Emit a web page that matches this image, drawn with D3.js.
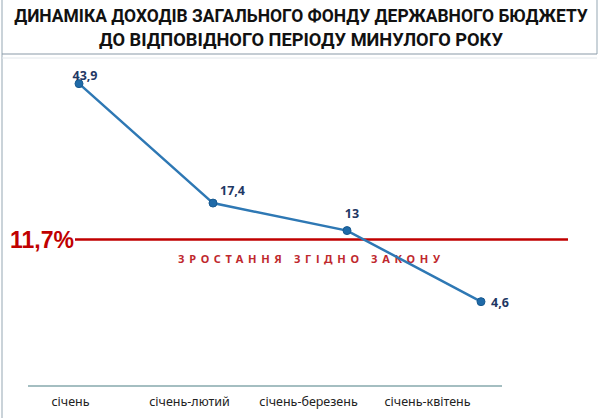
<!DOCTYPE html>
<html>
<head>
<meta charset="utf-8">
<script src="https://cdn.jsdelivr.net/npm/d3@7"></script>
<style>
  body { margin: 0; background: #fff; }
  svg { display: block; font-family: "Noto Sans", "DejaVu Sans", sans-serif; }
</style>
</head>
<body>
<div id="chart"></div>
<script>
// Chart data
const months = ["січень", "січень-лютий", "січень-березень", "січень-квітень"];
const growth = [43.9, 17.4, 13, 4.6];
const valueLabels = ["43,9", "17,4", "13", "4,6"];
const lawLevel = 11.7;
const lawLabel = "11,7%";
const lawText = "ЗРОСТАННЯ ЗГІДНО ЗАКОНУ";
const titleLines = [
    "ДИНАМІКА ДОХОДІВ ЗАГАЛЬНОГО ФОНДУ ДЕРЖАВНОГО БЮДЖЕТУ",
    "ДО ВІДПОВІДНОГО  ПЕРІОДУ МИНУЛОГО РОКУ"
];

const width = 600, height = 418;

const svg = d3.select("#chart")
    .append("svg")
    .attr("width", width)
    .attr("height", height);

// Title box borders
svg.append("line")
    .attr("x1", 2).attr("x2", 2).attr("y1", 0).attr("y2", height)
    .attr("stroke", "#b9c4cc").attr("stroke-width", 1.5);
svg.append("line")
    .attr("x1", 597).attr("x2", 597).attr("y1", 0).attr("y2", 54)
    .attr("stroke", "#b9c4cc").attr("stroke-width", 1.5);
svg.append("line")
    .attr("x1", 2).attr("x2", 597).attr("y1", 54).attr("y2", 54)
    .attr("stroke", "#8a9aa8").attr("stroke-width", 1.2);
svg.append("line")
    .attr("x1", 2).attr("x2", 597).attr("y1", 58).attr("y2", 58)
    .attr("stroke", "#e3e8ec").attr("stroke-width", 1);

// Title: squeeze horizontally to the width of the condensed original font
const titleWidths = [574, 404];
const titleY = [22, 46];
titleLines.forEach((t, i) => {
    const txt = svg.append("text")
        .attr("text-anchor", "middle")
        .attr("font-family", "Roboto, 'Noto Sans', sans-serif")
        .attr("font-size", 19).attr("font-weight", "bold")
        .attr("fill", "#111")
        .text(t);
    const w = txt.node().getComputedTextLength();
    const sx = Math.min(1, titleWidths[i] / w);
    txt.attr("transform", `translate(301,${titleY[i]}) scale(${sx},1)`);
});

// Scales
const x = d3.scalePoint()
    .domain(months)
    .range([79, 481]);

const xLab = d3.scalePoint()
    .domain(months)
    .range([70, 427]);

const y = d3.scaleSqrt()
    .domain([0, 50])
    .range([406, 62]);

// Reference line 11,7%
svg.append("line")
    .attr("x1", 75).attr("x2", 568)
    .attr("y1", y(lawLevel)).attr("y2", y(lawLevel))
    .attr("stroke", "#c00000").attr("stroke-width", 2.5);

svg.append("text")
    .attr("x", 74).attr("y", y(lawLevel) + 8)
    .attr("text-anchor", "end")
    .attr("font-family", "'Liberation Sans', Arial, sans-serif")
    .attr("font-size", 23).attr("font-weight", "bold")
    .attr("fill", "#c00000")
    .text(lawLabel);

svg.append("text")
    .attr("x", 309).attr("y", y(lawLevel) + 23)
    .attr("text-anchor", "middle")
    .attr("font-size", 11).attr("font-weight", "bold")
    .attr("fill", "#c0282d")
    .attr("textLength", 262).attr("lengthAdjust", "spacing")
    .text(lawText);

// Line
const line = d3.line()
    .x((d, i) => x(months[i]))
    .y(d => y(d));

svg.append("path")
    .datum(growth)
    .attr("fill", "none")
    .attr("stroke", "#2e78b4")
    .attr("stroke-width", 2.5)
    .attr("d", line);

svg.selectAll(".dot")
    .data(growth)
    .enter()
    .append("circle")
    .attr("class", "dot")
    .attr("cx", (d, i) => x(months[i]))
    .attr("cy", d => y(d))
    .attr("r", 4)
    .attr("fill", "#1f6aa8")
    .attr("stroke", "#195a90")
    .attr("stroke-width", 1);

// Value labels
const labelDx = [6, 7, 5, 10];
const labelDy = [-4, -8, -13, 5];
svg.selectAll(".label")
    .data(growth)
    .enter()
    .append("text")
    .attr("class", "label")
    .attr("x", (d, i) => x(months[i]) + labelDx[i])
    .attr("y", (d, i) => y(d) + labelDy[i])
    .attr("text-anchor", (d, i) => i === 0 || i === 2 ? "middle" : "start")
    .attr("font-size", 12.5).attr("font-weight", "bold")
    .attr("fill", "#1f3864")
    .text((d, i) => valueLabels[i]);

// X axis
const xAxis = svg.append("g")
    .attr("transform", "translate(0,386)")
    .call(d3.axisBottom(xLab).tickSize(0).tickPadding(11));

xAxis.select(".domain").remove();
xAxis.selectAll("text")
    .attr("font-family", "'Noto Sans', sans-serif")
    .attr("font-size", 12.5)
    .attr("fill", "#222");

svg.append("line")
    .attr("x1", 28).attr("x2", 502)
    .attr("y1", 386).attr("y2", 386)
    .attr("stroke", "#86a9ad").attr("stroke-width", 1.5);
</script>
</body>
</html>
